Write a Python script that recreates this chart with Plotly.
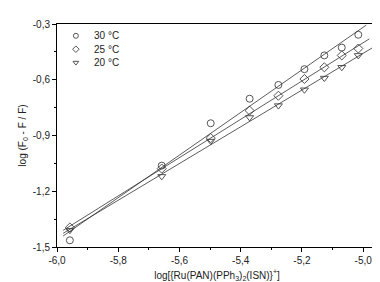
import numpy as np
import plotly.graph_objects as go

x_vals = [-5.958, -5.658, -5.498, -5.371, -5.277, -5.192, -5.127, -5.070, -5.016]
y_30 = [-1.464, -1.062, -0.834, -0.702, -0.628, -0.543, -0.469, -0.427, -0.358]
y_25 = [-1.395, -1.078, -0.914, -0.766, -0.686, -0.596, -0.533, -0.469, -0.432]
y_20 = [-1.410, -1.120, -0.930, -0.803, -0.739, -0.654, -0.591, -0.533, -0.469]

series_names = ["30 °C", "25 °C", "20 °C"]
symbols = ["circle-open", "diamond-open", "triangle-down-open"]
fit_ranges = [(-5.98, -4.99), (-5.98, -4.98), (-5.98, -4.97)]

xtick_vals = [-6.0, -5.8, -5.6, -5.4, -5.2, -5.0]
xtick_text = ["-6,0", "-5,8", "-5,6", "-5,4", "-5,2", "-5,0"]
ytick_vals = [-1.5, -1.2, -0.9, -0.6, -0.3]
ytick_text = ["-1,5", "-1,2", "-0,9", "-0,6", "-0,3"]

# legend key layout (paper fractions)
leg_sym_x = 0.059
leg_txt_x = 0.108
leg_rows = [0.947, 0.887, 0.827]

fig = go.Figure()
for name, ys, sym in zip(series_names, [y_30, y_25, y_20], symbols):
    fig.add_trace(go.Scatter(x=x_vals, y=ys, mode="markers", name=name, showlegend=False,
                             marker=dict(symbol=sym, size=7, color="#555555",
                                         line=dict(width=1, color="#555555"))))
for name, ys, (x0, x1) in zip(series_names, [y_30, y_25, y_20], fit_ranges):
    m, b = np.polyfit(x_vals, ys, 1)
    xl = np.array([x0, x1])
    fig.add_trace(go.Scatter(x=xl, y=m * xl + b, mode="lines", showlegend=False,
                             line=dict(color="#333333", width=0.8)))

# legend keys
for name, sym, ry in zip(series_names, symbols, leg_rows):
    fig.add_trace(go.Scatter(x=[leg_sym_x], y=[ry], xaxis="x2", yaxis="y2", mode="markers",
                             showlegend=False, hoverinfo="skip",
                             marker=dict(symbol=sym, size=5, color="#555555",
                                         line=dict(width=1, color="#555555"))))
    fig.add_annotation(x=leg_txt_x, y=ry, xref="paper", yref="paper", text=name,
                       showarrow=False, xanchor="left", yanchor="middle",
                       font=dict(size=10, color="#222"))

axis_common = dict(showline=True, linecolor="black", linewidth=1, mirror=True,
                   ticks="outside", ticklen=4, tickcolor="black", showgrid=False,
                   zeroline=False, tickfont=dict(size=10, color="#222"))
fig.update_layout(
    width=380, height=282,
    margin=dict(l=49, r=10, t=12, b=43),
    plot_bgcolor="white", paper_bgcolor="white",
    font=dict(family="Liberation Sans, Arial", size=10, color="#222"),
    xaxis=dict(range=[-6.0, -4.955], tickvals=xtick_vals, ticktext=xtick_text,
               minor=dict(ticks="outside", dtick=0.1, tick0=-6.0, ticklen=2, tickcolor="black"),
               title=dict(text="log[{Ru(PAN)(PPh<sub>3</sub>)<sub>2</sub>(ISN)}<sup>+</sup>]",
                          font=dict(size=10), standoff=6),
               **axis_common),
    yaxis=dict(range=[-1.5, -0.3], tickvals=ytick_vals, ticktext=ytick_text,
               minor=dict(ticks="outside", dtick=0.15, tick0=-1.5, ticklen=2, tickcolor="black"),
               title=dict(text="log (F<sub>0</sub> - F / F)", font=dict(size=10), standoff=4),
               **axis_common),
    xaxis2=dict(range=[0, 1], overlaying="x", visible=False, fixedrange=True),
    yaxis2=dict(range=[0, 1], overlaying="y", visible=False, fixedrange=True),
    showlegend=False,
)
fig.write_html("out.html")
